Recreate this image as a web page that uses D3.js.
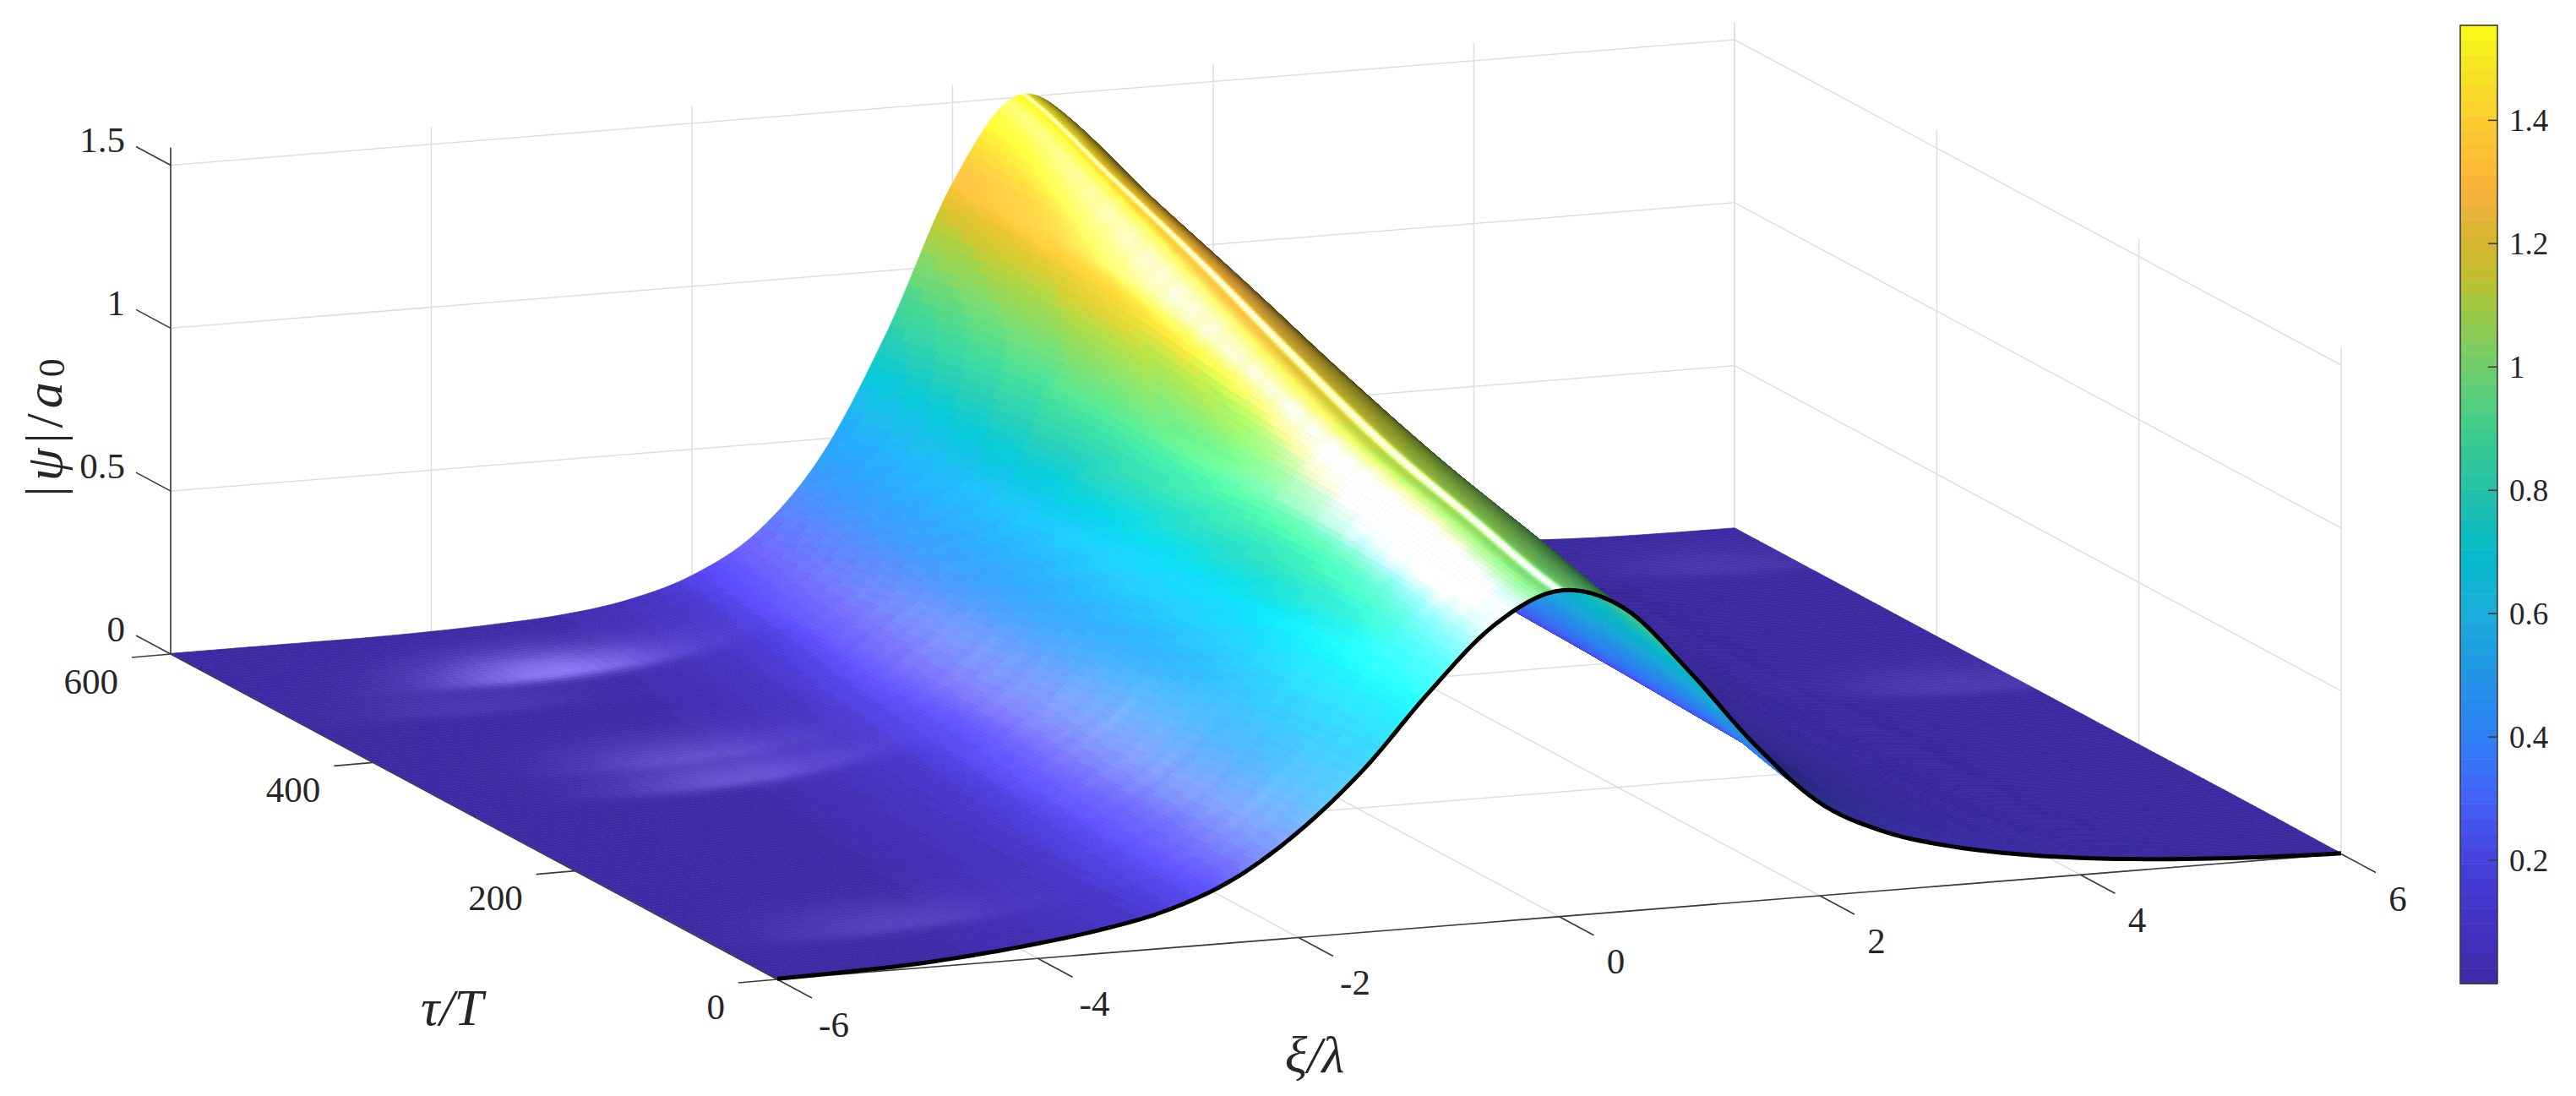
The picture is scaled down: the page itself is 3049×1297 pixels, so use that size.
<!DOCTYPE html>
<html>
<head>
<meta charset="utf-8">
<script src="https://cdn.jsdelivr.net/npm/d3@7"></script>
<style>
  html, body { margin: 0; background: #fff; }
  text { font-family: "Liberation Serif", serif; fill: #262626; }
</style>
</head>
<body>
<div id="chart-area"></div>
<script>
// values: |psi|/a0 along xi, one list per tau
const xiNodes = [-6,-5.5,-5,-4.5,-4,-3.5,-3,-2.5,-2,-1.5,-1,-0.5,0,0.5,1,1.5,2,2.5,3,3.5,4,4.5,5,5.5,6]
const tauNodes = [0,100,200,300,400,500,600]
const psiTau0   = [.002,.006,.012,.026,.046,.074,.117,.195,.325,.50,.72,.91,1.0,.93,.72,.48,.285,.18,.12,.08,.052,.032,.018,.008,.002]
const psiTau100 = [.003,.005,.009,.017,.03,.056,.098,.172,.29,.48,.71,.94,1.066,1.01,.81,.565,.358,.212,.123,.07,.039,.021,.012,.006,.004]
const psiTau200 = [.002,.004,.007,.013,.024,.044,.082,.145,.257,.43,.68,.948,1.119,1.093,.888,.619,.392,.227,.127,.069,.038,.021,.011,.006,.003]
const psiTau300 = [.002,.003,.005,.009,.018,.034,.066,.12,.215,.39,.644,.927,1.177,1.198,.988,.69,.431,.242,.133,.072,.038,.02,.01,.005,.003]
const psiTau400 = [.002,.002,.003,.006,.013,.025,.049,.095,.185,.339,.598,.933,1.234,1.311,1.109,.766,.466,.257,.133,.071,.036,.018,.009,.004,.002]
const psiTau500 = [.002,.002,.002,.004,.008,.018,.037,.075,.145,.285,.529,.888,1.255,1.41,1.23,.86,.508,.275,.137,.069,.034,.017,.008,.004,.002]
const psiTau600 = [.002,.002,.002,.002,.005,.012,.024,.053,.113,.23,.453,.815,1.253,1.505,1.36,.936,.544,.287,.139,.065,.031,.014,.006,.003,.002]
const psiRows = [psiTau0, psiTau100, psiTau200, psiTau300, psiTau400, psiTau500, psiTau600]

// how strong the sheen streaks look along tau, every 10 units
const streakGain = [1,.95,.88,1,.92,1.08,.9,1.02,.97,.88,1.05,.95,1,.88,1.08,.92,1,1.06,.9,1,.95,1.08,.88,1.02,.92,1,1.06,.9,.98,.92,1.02,.86,.96,.92,.86,.98,.8,.9,.82,.94,.74,.86,.76,.82,.68,.76,.7,.62,.72,.58,.64,.52,.6,.48,.55,.44,.5,.42,.46,.38,.42]

// shiny spots on the flat parts
const glintXi    = [-3.7,-3.9,-3.85,-4.6,-4.7,5.5,5.4]
const glintTau   = [513,359,314,61,470,312,534]
const glintLevel = [.3,.1,.16,.09,.05,.07,.05]

const xiTicks = [-6,-4,-2,0,2,4,6]
const tauTicks = [0,200,400,600]
const zTicks = [0,0.5,1,1.5]
const barTicks = [0.2,0.4,0.6,0.8,1,1.2,1.4]

// colorbar as read
const cbValues = [0,.1,.2,.3,.4,.5,.6,.7,.8,.9,1,1.1,1.15,1.2,1.25,1.3,1.4,1.5,1.553]
const cbColors = ['#3e2aa6','#4332c2','#4741dd','#4262f8','#2f80f5','#2395e6','#1bacdb','#05bac8','#25c0a8','#3fcd8c','#6fcf6c','#a0c840','#c3bd2f','#d4b52c','#e8b33a','#fcb53a','#fbcc2f','#f5ea22','#f9fb14']

const width = 3049, height = 1297
const zMax = 1.554

const svg = d3.select('#chart-area').append('svg')
  .attr('width', width)
  .attr('height', height)
  .style('display', 'block')

// orthographic view, fitted on the box corners
const origin = [920, 1159]
const xiX = d3.scaleLinear().domain([-6, 6]).range([0, 1851])
const xiY = d3.scaleLinear().domain([-6, 6]).range([0, -148.5])
const tauX = d3.scaleLinear().domain([0, 600]).range([0, -718])
const tauY = d3.scaleLinear().domain([0, 600]).range([0, -385])
const zY = d3.scaleLinear().domain([0, 1.5]).range([0, -578.5])
const project = (xi, tau, z) => [
  origin[0] + xiX(xi) + tauX(tau),
  origin[1] + xiY(xi) + tauY(tau) + zY(z)
]

const colorLine = d3.scaleLinear().domain(cbValues).range(cbColors).clamp(true)
const levels = 64
const levelOf = z => Math.min(levels - 1, Math.floor(z / zMax * levels))
const levelColors = d3.range(levels).map(i => d3.rgb(colorLine((i + 0.5) / levels * zMax)))

// catmull-rom between the read values, only to shade the mesh like "shading interp"
const cr = (a, b, c, d, t) => 0.5 * (2 * b + (c - a) * t + (2 * a - 5 * b + 4 * c - d) * t * t + (3 * b - a - 3 * c + d) * t * t * t)
const clampI = (i, n) => Math.max(0, Math.min(n - 1, i))
function rowAt(row, xi) {
  const u = Math.max(0, Math.min(23.9999, (xi + 6) / 0.5)), i = Math.floor(u)
  return cr(row[clampI(i - 1, 25)], row[i], row[i + 1], row[clampI(i + 2, 25)], u - i)
}
function psiAt(xi, tau) {
  const v = Math.max(0, Math.min(5.9999, tau / 100)), j = Math.floor(v)
  return Math.max(0.001, cr(
    rowAt(psiRows[clampI(j - 1, 7)], xi), rowAt(psiRows[j], xi),
    rowAt(psiRows[j + 1], xi), rowAt(psiRows[clampI(j + 2, 7)], xi), v - j))
}

const xiMesh = [].concat(d3.range(-6, -3, 0.1), d3.range(-3, -0.1, 0.035), d3.range(-0.1, 0.9, 0.012), d3.range(0.9, 3, 0.06), d3.range(3, 5.99, 0.1), [6])
const tauMesh = d3.range(0, 151).map(i => i * 600 / 150)

const litGain = d3.scaleLinear()
  .domain([-0.4, -0.3, 0, 0.1, 0.25, 0.45, 0.7, 0.9, 1.3])
  .range([0.35, 0.45, 0.96, 1.05, 1.27, 1.25, 1.1, 1.05, 1.05])
  .clamp(true)
const crestGate = d3.scaleLinear().domain([0.55, 0.8]).range([0, 1]).clamp(true)
const lowSheen = d3.scaleLinear().domain([0.5, 0.95]).range([0.27, 1]).clamp(true)
const streakAt = d3.scaleLinear().domain(streakGain.map((d, i) => i * 10)).range(streakGain)

function shade(xi, tau, under) {
  const z = psiAt(xi, tau)
  const c = levelColors[levelOf(z)]
  if (under) return c.formatHex()
  const p = (psiAt(xi + 0.02, tau) - psiAt(xi - 0.02, tau)) / 0.04
  const broad = Math.exp(-Math.pow((p - 0.3) / 0.09, 2) / 2) * 0.66 * streakAt(tau) * lowSheen(z)
  const line = Math.exp(-Math.pow((p - 0.02) / 0.02, 2) / 2) * crestGate(z) * 0.75
  let glint = 0
  glintXi.forEach((g, i) => {
    const dx = xi - g, dt = tau - glintTau[i], st = dt < 0 ? 8 : 28
    glint += glintLevel[i] * Math.exp(-dx * dx / (2 * 0.6 * 0.6) - dt * dt / (2 * st * st))
  })
  const k = litGain(p), add = 255 * (broad + line + glint)
  return d3.rgb(c.r * k + add, c.g * k + add, c.b * k + add).formatHex()
}

const cells = []
for (let j = tauMesh.length - 2; j >= 0; j--) {
  for (let i = xiMesh.length - 2; i >= 0; i--) {
    const a = xiMesh[i], b = xiMesh[i + 1], s = tauMesh[j], t = tauMesh[j + 1]
    const pts = [project(a, s, psiAt(a, s)), project(b, s, psiAt(b, s)), project(b, t, psiAt(b, t)), project(a, t, psiAt(a, t))]
    const under = d3.polygonArea(pts) < 0
    cells.push({pts, fill: shade((a + b) / 2, (s + t) / 2, under)})
  }
}

const grid = svg.append('g').attr('fill', 'none').attr('stroke', '#dedede').attr('stroke-width', 1.5)
const seg = (g, a, b) => g.append('line').attr('x1', a[0]).attr('y1', a[1]).attr('x2', b[0]).attr('y2', b[1])

xiTicks.forEach(v => {
  seg(grid, project(v, 0, 0), project(v, 600, 0))
  seg(grid, project(v, 600, 0), project(v, 600, zMax))
})
tauTicks.forEach(v => {
  seg(grid, project(-6, v, 0), project(6, v, 0))
  seg(grid, project(6, v, 0), project(6, v, zMax))
})
zTicks.forEach(v => {
  seg(grid, project(-6, 600, v), project(6, 600, v))
  seg(grid, project(6, 600, v), project(6, 0, v))
})

const axes = svg.append('g').attr('stroke', '#3a3a3a').attr('stroke-width', 1.6)
seg(axes, project(-6, 0, 0), project(6, 0, 0))
seg(axes, project(-6, 0, 0), project(-6, 600, 0))
seg(axes, project(-6, 600, 0), project(-6, 600, zMax))
xiTicks.forEach(v => {
  const a = project(v, 0, 0)
  seg(axes, a, [a[0] + 41, a[1] + 22])
})
tauTicks.forEach(v => {
  const a = project(-6, v, 0)
  seg(axes, a, [a[0] - 46, a[1] + 4])
})
zTicks.forEach(v => {
  const a = project(-6, 600, v)
  seg(axes, a, [a[0] - 41, a[1] - 22])
})

svg.append('g').selectAll('path').data(cells).join('path')
  .attr('d', d => 'M' + d.pts.map(q => q[0].toFixed(1) + ',' + q[1].toFixed(1)).join('L') + 'Z')
  .attr('fill', d => d.fill)
  .attr('stroke', d => d.fill)
  .attr('stroke-width', 0.7)

// front edge of the surface
const edge = d3.line().x(d => project(d, 0, psiAt(d, 0))[0]).y(d => project(d, 0, psiAt(d, 0))[1])
svg.append('path').attr('d', edge(xiMesh))
  .attr('fill', 'none').attr('stroke', '#000').attr('stroke-width', 5).attr('stroke-linejoin', 'round')

const labels = svg.append('g').attr('font-size', 43)
labels.selectAll('.xi').data(xiTicks).join('text').attr('class', 'xi')
  .attr('x', d => project(d, 0, 0)[0] + 67)
  .attr('y', d => project(d, 0, 0)[1] + 53)
  .attr('text-anchor', 'middle').attr('dominant-baseline', 'central')
  .text(d => d)
labels.selectAll('.tau').data(tauTicks).join('text').attr('class', 'tau')
  .attr('x', d => project(-6, d, 0)[0] - 62)
  .attr('y', d => project(-6, d, 0)[1] + 32)
  .attr('text-anchor', 'end').attr('dominant-baseline', 'central')
  .text(d => d)
labels.selectAll('.z').data(zTicks).join('text').attr('class', 'z')
  .attr('x', 148)
  .attr('y', d => project(-6, 600, d)[1] - 30)
  .attr('text-anchor', 'end').attr('dominant-baseline', 'central')
  .text(d => d)

const titles = svg.append('g').attr('font-size', 62).attr('font-style', 'italic')
titles.append('text').attr('x', 1556).attr('y', 1248).attr('text-anchor', 'middle').attr('dominant-baseline', 'central').text('ξ/λ')
titles.append('text').attr('x', 535).attr('y', 1192).attr('text-anchor', 'middle').attr('dominant-baseline', 'central').text('τ/T')
const zTitle = titles.append('text').attr('transform', 'translate(52,503) rotate(-90)').attr('text-anchor', 'middle').attr('dominant-baseline', 'central').attr('letter-spacing', 6)
zTitle.append('tspan').attr('font-style', 'normal').text('|')
zTitle.append('tspan').text('ψ')
zTitle.append('tspan').attr('font-style', 'normal').text('|/')
zTitle.append('tspan').text('a')
zTitle.append('tspan').attr('font-style', 'normal').attr('font-size', 44).attr('dy', 9).text('0')

// colorbar
const barX = 2912, barW = 44
const barY = d3.scaleLinear().domain([0, zMax]).range([1164, 30])
const bar = svg.append('g')
bar.selectAll('rect').data(levelColors).join('rect')
  .attr('x', barX)
  .attr('y', (d, i) => barY((i + 1) / levels * zMax))
  .attr('width', barW)
  .attr('height', (d, i) => barY(i / levels * zMax) - barY((i + 1) / levels * zMax) + 0.5)
  .attr('fill', d => d.formatHex())
bar.append('rect').attr('x', barX).attr('y', 30).attr('width', barW).attr('height', 1134)
  .attr('fill', 'none').attr('stroke', '#3a3a3a').attr('stroke-width', 1.6)
bar.selectAll('.tick').data(barTicks).join('line').attr('class', 'tick')
  .attr('x1', barX + barW - 11).attr('x2', barX + barW)
  .attr('y1', d => barY(d)).attr('y2', d => barY(d))
  .attr('stroke', '#3a3a3a').attr('stroke-width', 1.6)
bar.selectAll('text').data(barTicks).join('text')
  .attr('x', 2970).attr('y', d => barY(d))
  .attr('font-size', 37).attr('dominant-baseline', 'central')
  .text(d => d)
</script>
</body>
</html>
